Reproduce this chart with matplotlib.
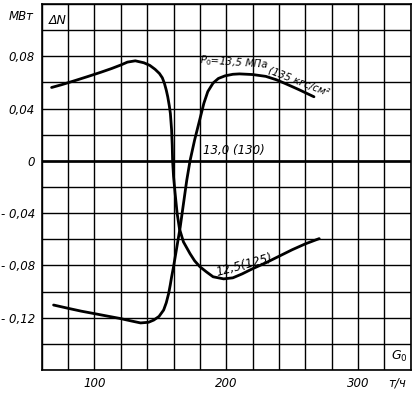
import numpy as np
import matplotlib
matplotlib.use("Agg")
import matplotlib.pyplot as plt

# %%
# curve P0 = 12,5 MPa
g_125 = [67.5, 75, 85, 95, 105, 113, 120, 125, 131, 137.5, 142, 146, 149.3, 151.5,
         153.1, 154.5, 155.6, 156.8, 157.6, 158.5, 159.0, 159.3, 160.0, 161.2, 162.7,
         164.5, 167.5, 172.5, 176, 180, 185, 190, 198, 205, 212, 220, 230, 240, 250,
         260, 270.5]
dn_125 = [0.0561, 0.0582, 0.0613, 0.0645, 0.0678, 0.0706, 0.0733, 0.0755, 0.0765,
          0.0750, 0.0730, 0.0700, 0.0668, 0.0635, 0.0592, 0.0540, 0.0490, 0.0420,
          0.0362, 0.0240, 0.0120, 0.0, -0.0120, -0.0250, -0.0400, -0.0520, -0.0620,
          -0.0710, -0.0765, -0.0810, -0.0850, -0.0887, -0.0903, -0.0895, -0.0865,
          -0.0825, -0.0780, -0.0730, -0.0680, -0.0635, -0.0595]

# curve P0 = 13,5 MPa
g_135 = [69, 80, 90, 99, 110, 119, 128, 135, 141, 145, 149, 152.5, 154.5, 156.3,
         157.5, 158.5, 160, 162.5, 165, 167.5, 170, 172.5, 176, 179.5, 183, 186, 190,
         194, 199, 205, 210, 220, 230, 238, 245, 255, 266.5]
dn_135 = [-0.1103, -0.1128, -0.1150, -0.1167, -0.1188, -0.1205, -0.1225, -0.1240,
          -0.1235, -0.1218, -0.1190, -0.1141, -0.1085, -0.1014, -0.0950, -0.0890,
          -0.0810, -0.0660, -0.0510, -0.0330, -0.0150, 0.0, 0.0160, 0.0300, 0.0440,
          0.0530, 0.0595, 0.0630, 0.0650, 0.0662, 0.0665, 0.0660, 0.0646, 0.0620,
          0.0590, 0.0545, 0.0490]

# reference curve 13,0 MPa (dN = 0)
dn_130 = 0.0

x_labels = {100: '100', 200: '200', 300: '300'}
y_labels = {0.08: '0,08', 0.04: '0,04', 0.0: '0', -0.04: '- 0,04',
            -0.08: '- 0,08', -0.12: '- 0,12'}

# %%
plt.rcParams['font.family'] = ['DejaVu Sans']
fig = plt.figure(figsize=(4.15, 3.95), dpi=100)
ax = fig.add_axes([0.1005, 0.0633, 0.8895, 0.9267])

ax.set_xlim(60, 340)
ax.set_ylim(-0.16, 0.12)

xt = np.arange(60, 341, 20)
yt = np.round(np.arange(-0.16, 0.1201, 0.02), 2)
ax.set_xticks(xt)
ax.set_xticklabels([x_labels.get(int(v), '') for v in xt])
ax.set_yticks(yt)
ax.set_yticklabels([y_labels.get(round(float(v), 2), '') for v in yt])
ax.tick_params(length=0, labelsize=8.5, pad=5)
for lab in ax.get_xticklabels() + ax.get_yticklabels():
    lab.set_style('italic')

ax.grid(True, color='black', lw=1.0)
for s in ax.spines.values():
    s.set_linewidth(1.2)
    s.set_color('black')

ax.axhline(dn_130, color='black', lw=1.9)
ax.plot(g_125, dn_125, color='black', lw=2.0, solid_capstyle='round',
        solid_joinstyle='round')
ax.plot(g_135, dn_135, color='black', lw=2.0, solid_capstyle='round',
        solid_joinstyle='round')

# labels
ax.text(206, 0.0752, r'$P_0$=13,5 МПа', fontsize=7.3, style='italic',
        rotation=-4, ha='center', va='center')
ax.text(255, 0.0605, '(135 кгс/см²', fontsize=7.3, style='italic',
        rotation=-21, ha='center', va='center')
ax.text(205.5, 0.0078, '13,0 (130)', fontsize=8.5, style='italic',
        ha='center', va='center')
ax.text(213.5, -0.0795, '12,5(125)', fontsize=8.5, style='italic',
        rotation=15, ha='center', va='center')

ax.text(0.043, 0.955, 'ΔN', transform=ax.transAxes, fontsize=9, style='italic',
        ha='center', va='center')
fig.text(21 / 415, 1 - 16 / 395, 'МВт', fontsize=8.5, style='italic',
         ha='center', va='center')
ax.text(0.968, 0.037, r'$G_0$', transform=ax.transAxes, fontsize=9,
        ha='center', va='center')
fig.text(397 / 415, 1 - 383 / 395, 'т/ч', fontsize=8.5, style='italic',
         ha='center', va='center')

fig.savefig('out.png', dpi=100)
